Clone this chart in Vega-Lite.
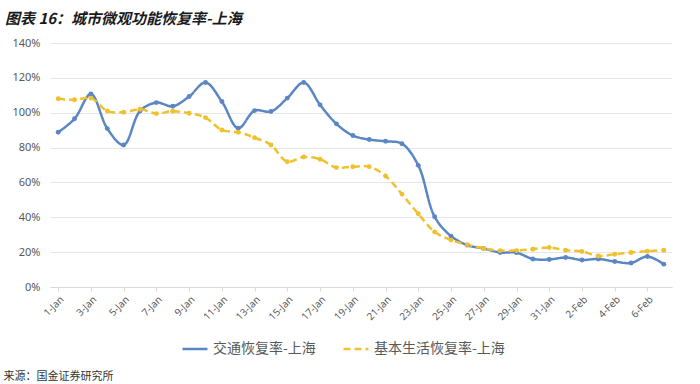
{
  "$schema": "https://vega.github.io/schema/vega-lite/v6.json",
  "width": 622,
  "height": 244,
  "autosize": {"type": "none"},
  "padding": {"left": 50, "top": 43, "right": 28, "bottom": 97},
  "background": "#ffffff",
  "title": {
    "text": "图表 16：城市微观功能恢复率-上海",
    "anchor": "start",
    "frame": "group",
    "dx": -45,
    "offset": 10,
    "font": "Noto Sans CJK SC",
    "fontSize": 15,
    "fontWeight": "bold",
    "fontStyle": "italic",
    "color": "#1a1a1a"
  },
  "config": {"view": {"stroke": null}},
  "data": {
    "values": [
      {"date": "1-Jan", "交通恢复率-上海": 88.8, "基本生活恢复率-上海": 108.0},
      {"date": "2-Jan", "交通恢复率-上海": 96.5, "基本生活恢复率-上海": 107.4},
      {"date": "3-Jan", "交通恢复率-上海": 110.7, "基本生活恢复率-上海": 108.4},
      {"date": "4-Jan", "交通恢复率-上海": 90.9, "基本生活恢复率-上海": 101.0},
      {"date": "5-Jan", "交通恢复率-上海": 81.5, "基本生活恢复率-上海": 100.3},
      {"date": "6-Jan", "交通恢复率-上海": 101.0, "基本生活恢复率-上海": 102.0},
      {"date": "7-Jan", "交通恢复率-上海": 105.8, "基本生活恢复率-上海": 99.5},
      {"date": "8-Jan", "交通恢复率-上海": 103.7, "基本生活恢复率-上海": 100.9},
      {"date": "9-Jan", "交通恢复率-上海": 109.3, "基本生活恢复率-上海": 99.7},
      {"date": "10-Jan", "交通恢复率-上海": 117.3, "基本生活恢复率-上海": 97.2},
      {"date": "11-Jan", "交通恢复率-上海": 106.4, "基本生活恢复率-上海": 90.1},
      {"date": "12-Jan", "交通恢复率-上海": 91.1, "基本生活恢复率-上海": 88.8},
      {"date": "13-Jan", "交通恢复率-上海": 101.2, "基本生活恢复率-上海": 85.7},
      {"date": "14-Jan", "交通恢复率-上海": 100.7, "基本生活恢复率-上海": 81.5},
      {"date": "15-Jan", "交通恢复率-上海": 108.4, "基本生活恢复率-上海": 71.9},
      {"date": "16-Jan", "交通恢复率-上海": 117.3, "基本生活恢复率-上海": 74.6},
      {"date": "17-Jan", "交通恢复率-上海": 104.5, "基本生活恢复率-上海": 73.3},
      {"date": "18-Jan", "交通恢复率-上海": 93.6, "基本生活恢复率-上海": 68.5},
      {"date": "19-Jan", "交通恢复率-上海": 86.9, "基本生活恢复率-上海": 69.0},
      {"date": "20-Jan", "交通恢复率-上海": 84.6, "基本生活恢复率-上海": 69.0},
      {"date": "21-Jan", "交通恢复率-上海": 83.6, "基本生活恢复率-上海": 63.7},
      {"date": "22-Jan", "交通恢复率-上海": 82.2, "基本生活恢复率-上海": 53.3},
      {"date": "23-Jan", "交通恢复率-上海": 69.8, "基本生活恢复率-上海": 42.0},
      {"date": "24-Jan", "交通恢复率-上海": 40.3, "基本生活恢复率-上海": 31.6},
      {"date": "25-Jan", "交通恢复率-上海": 29.2, "基本生活恢复率-上海": 26.9},
      {"date": "26-Jan", "交通恢复率-上海": 24.0, "基本生活恢复率-上海": 24.3},
      {"date": "27-Jan", "交通恢复率-上海": 22.1, "基本生活恢复率-上海": 22.1},
      {"date": "28-Jan", "交通恢复率-上海": 19.8, "基本生活恢复率-上海": 20.9},
      {"date": "29-Jan", "交通恢复率-上海": 19.7, "基本生活恢复率-上海": 20.9},
      {"date": "30-Jan", "交通恢复率-上海": 16.1, "基本生活恢复率-上海": 21.7},
      {"date": "31-Jan", "交通恢复率-上海": 15.8, "基本生活恢复率-上海": 22.7},
      {"date": "1-Feb", "交通恢复率-上海": 16.9, "基本生活恢复率-上海": 21.1},
      {"date": "2-Feb", "交通恢复率-上海": 15.5, "基本生活恢复率-上海": 20.4},
      {"date": "3-Feb", "交通恢复率-上海": 16.1, "基本生活恢复率-上海": 17.8},
      {"date": "4-Feb", "交通恢复率-上海": 14.6, "基本生活恢复率-上海": 18.8},
      {"date": "5-Feb", "交通恢复率-上海": 13.8, "基本生活恢复率-上海": 19.8},
      {"date": "6-Feb", "交通恢复率-上海": 17.5, "基本生活恢复率-上海": 20.5},
      {"date": "7-Feb", "交通恢复率-上海": 13.1, "基本生活恢复率-上海": 21.1}
    ]
  },
  "transform": [
    {"fold": ["交通恢复率-上海", "基本生活恢复率-上海"], "as": ["series", "value"]}
  ],
  "encoding": {
    "x": {
      "field": "date",
      "type": "ordinal",
      "sort": null,
      "scale": {"type": "point", "padding": 0.5},
      "axis": {
        "values": ["1-Jan", "3-Jan", "5-Jan", "7-Jan", "9-Jan", "11-Jan", "13-Jan", "15-Jan", "17-Jan", "19-Jan", "21-Jan", "23-Jan", "25-Jan", "27-Jan", "29-Jan", "31-Jan", "2-Feb", "4-Feb", "6-Feb"],
        "labelAngle": -45,
        "labelFont": "Noto Sans",
        "labelFontSize": 10,
        "labelColor": "#595959",
        "labelPadding": 3,
        "domainColor": "#d9d9d9",
        "tickColor": "#d9d9d9",
        "tickSize": 4,
        "grid": false,
        "title": "来源：国金证券研究所",
        "titleAnchor": "start",
        "titleAlign": "left",
        "titleBaseline": "middle",
        "titleX": -47,
        "titleY": 89,
        "titleFont": "Noto Sans CJK SC",
        "titleFontSize": 11,
        "titleFontWeight": "normal",
        "titleColor": "#333333"
      }
    },
    "y": {
      "field": "value",
      "type": "quantitative",
      "scale": {"domain": [0, 140]},
      "axis": {
        "values": [0, 20, 40, 60, 80, 100, 120, 140],
        "labelExpr": "datum.value + '%'",
        "labelFont": "Noto Sans",
        "labelFontSize": 11,
        "labelColor": "#595959",
        "labelPadding": 10,
        "domain": false,
        "ticks": false,
        "gridColor": "#e6e6e6",
        "gridWidth": 1,
        "title": null
      }
    },
    "color": {
      "field": "series",
      "type": "nominal",
      "scale": {"domain": ["交通恢复率-上海", "基本生活恢复率-上海"], "range": ["#5b86c4", "#efc12e"]},
      "legend": {
        "orient": "none",
        "legendX": 131,
        "legendY": 292,
        "direction": "horizontal",
        "title": null,
        "symbolType": "stroke",
        "symbolSize": 625,
        "symbolStrokeWidth": 2.5,
        "labelFont": "Noto Sans CJK SC",
        "labelFontSize": 14,
        "labelColor": "#595959",
        "labelOffset": 4,
        "columnPadding": 22
      }
    }
  },
  "layer": [
    {
      "mark": {"type": "line", "interpolate": "catmull-rom", "strokeWidth": 2.5},
      "encoding": {
        "strokeDash": {
          "field": "series",
          "type": "nominal",
          "scale": {"domain": ["交通恢复率-上海", "基本生活恢复率-上海"], "range": [[1, 0], [7, 4]]},
          "legend": {
            "orient": "none",
            "legendX": 131,
            "legendY": 292,
            "direction": "horizontal",
            "title": null,
            "symbolType": "stroke",
            "symbolSize": 625,
            "symbolStrokeWidth": 2.5,
            "labelFont": "Noto Sans CJK SC",
            "labelFontSize": 14,
            "labelColor": "#595959",
            "labelOffset": 4,
            "columnPadding": 22
          }
        }
      }
    },
    {
      "mark": {"type": "circle", "size": 24, "opacity": 1}
    }
  ]
}
